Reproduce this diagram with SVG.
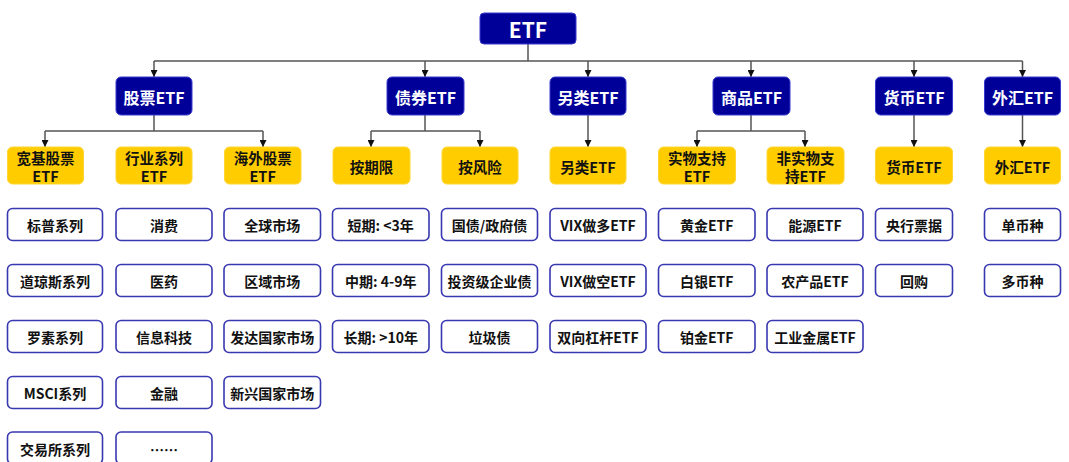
<svg xmlns="http://www.w3.org/2000/svg" width="1069" height="462" viewBox="0 0 1069 462">
<style>
text{font-family:"Noto Sans CJK SC","Noto Sans",sans-serif;font-weight:bold;text-anchor:middle;dominant-baseline:central}
.l1 rect,.l2 rect{fill:#000099;stroke:#3a3acc;stroke-width:1}
.l1 text{fill:#fff;font-size:21px}
.l2 text{fill:#fff;font-size:16px}
.l3 rect{fill:#ffcc00;stroke:#ffd633;stroke-width:1}
.l3 text{fill:#111;font-size:14.5px}
.l4 rect{fill:#fff;stroke:#3838b0;stroke-width:1.6}
.l4 text{fill:#111;font-size:14px}
.c{fill:none;stroke:#555;stroke-width:1.5}
.a{marker-end:url(#ah)}
</style>
<defs>
<marker id="ah" viewBox="0 0 10 10" refX="10" refY="5" markerWidth="7" markerHeight="7" markerUnits="userSpaceOnUse" orient="auto">
<path d="M0,0 L10,5 L0,10 z" fill="#111"/>
</marker>
</defs>
<g id="connectors">
<path class="c" d="M528,44 V61 M154,61 H1022.5"/>
<path class="c a" d="M154,61 V77"/>
<path class="c a" d="M425,61 V77"/>
<path class="c a" d="M588,61 V77"/>
<path class="c a" d="M751,61 V77"/>
<path class="c a" d="M914,61 V77"/>
<path class="c a" d="M1022.5,61 V77"/>
<path class="c" d="M154,115 V131 M45,131 H263"/>
<path class="c a" d="M45,131 V147"/>
<path class="c a" d="M263,131 V147"/>
<path class="c" d="M425,115 V131 M371,131 H480"/>
<path class="c a" d="M371,131 V147"/>
<path class="c a" d="M480,131 V147"/>
<path class="c a" d="M588,115 V147"/>
<path class="c" d="M751,115 V131 M697,131 H805"/>
<path class="c a" d="M697,131 V147"/>
<path class="c a" d="M805,131 V147"/>
<path class="c a" d="M914,115 V147"/>
<path class="c a" d="M1022.5,115 V147"/>
</g>
<g id="n-etf" class="l1"><rect x="480" y="13" width="96" height="31" rx="4"/><text x="528" y="29">ETF</text></g>
<g id="n-gp" class="l2"><rect x="116" y="77" width="76" height="38" rx="5"/><text x="154" y="96.5">股票ETF</text></g>
<g id="n-zq" class="l2"><rect x="387" y="77" width="77" height="38" rx="5"/><text x="425.5" y="96.5">债券ETF</text></g>
<g id="n-ll" class="l2"><rect x="550" y="77" width="76" height="38" rx="5"/><text x="588" y="96.5">另类ETF</text></g>
<g id="n-sp" class="l2"><rect x="713" y="77" width="77" height="38" rx="5"/><text x="751.5" y="96.5">商品ETF</text></g>
<g id="n-hb" class="l2"><rect x="875.5" y="77" width="77" height="38" rx="5"/><text x="914" y="96.5">货币ETF</text></g>
<g id="n-wh" class="l2"><rect x="984.5" y="77" width="76" height="38" rx="5"/><text x="1022.5" y="96.5">外汇ETF</text></g>

<g id="n-kj" class="l3"><rect x="7.5" y="147" width="76" height="37" rx="5"/><text x="45.5" y="157.5">宽基股票<tspan x="45.5" dy="17">ETF</tspan></text></g>
<g id="n-hy" class="l3"><rect x="116" y="147" width="76" height="37" rx="5"/><text x="154" y="157.5">行业系列<tspan x="154" dy="17">ETF</tspan></text></g>
<g id="n-hw" class="l3"><rect x="224.5" y="147" width="76.5" height="37" rx="5"/><text x="262.7" y="157.5">海外股票<tspan x="262.7" dy="17">ETF</tspan></text></g>
<g id="n-aqx" class="l3"><rect x="333" y="147" width="77" height="37" rx="5"/><text x="371.5" y="166">按期限</text></g>
<g id="n-afx" class="l3"><rect x="442" y="147" width="76" height="37" rx="5"/><text x="480" y="166">按风险</text></g>
<g id="n-ll2" class="l3"><rect x="550" y="147" width="76" height="37" rx="5"/><text x="588" y="166">另类ETF</text></g>
<g id="n-swzc" class="l3"><rect x="658.5" y="147" width="77" height="37" rx="5"/><text x="697" y="157.5">实物支持<tspan x="697" dy="17">ETF</tspan></text></g>
<g id="n-fsw" class="l3"><rect x="767" y="147" width="77" height="37" rx="5"/><text x="805.5" y="157.5">非实物支<tspan x="805.5" dy="17">持ETF</tspan></text></g>
<g id="n-hb2" class="l3"><rect x="875.5" y="147" width="77" height="37" rx="5"/><text x="914" y="166">货币ETF</text></g>
<g id="n-wh2" class="l3"><rect x="984.5" y="147" width="76" height="37" rx="5"/><text x="1022.5" y="166">外汇ETF</text></g>

<g id="n-bp" class="l4"><rect x="7.5" y="208.5" width="95" height="32" rx="5"/><text x="55" y="225">标普系列</text></g>
<g id="n-dqs" class="l4"><rect x="7.5" y="264.5" width="95" height="32" rx="5"/><text x="55" y="281">道琼斯系列</text></g>
<g id="n-ls" class="l4"><rect x="7.5" y="320.5" width="95" height="32" rx="5"/><text x="55" y="337">罗素系列</text></g>
<g id="n-msci" class="l4"><rect x="7.5" y="376.5" width="95" height="32" rx="5"/><text x="55" y="393">MSCI系列</text></g>
<g id="n-jys" class="l4"><rect x="7.5" y="432" width="95" height="32" rx="5"/><text x="55" y="448.5">交易所系列</text></g>

<g id="n-xf" class="l4"><rect x="116" y="208.5" width="96" height="32" rx="5"/><text x="164" y="225">消费</text></g>
<g id="n-yy" class="l4"><rect x="116" y="264.5" width="96" height="32" rx="5"/><text x="164" y="281">医药</text></g>
<g id="n-xxkj" class="l4"><rect x="116" y="320.5" width="96" height="32" rx="5"/><text x="164" y="337">信息科技</text></g>
<g id="n-jr" class="l4"><rect x="116" y="376.5" width="96" height="32" rx="5"/><text x="164" y="393">金融</text></g>
<g id="n-more" class="l4"><rect x="116" y="432" width="96" height="32" rx="5"/><text x="164" y="448.5">……</text></g>

<g id="n-qq" class="l4"><rect x="224" y="208.5" width="96.5" height="32" rx="5"/><text x="272.2" y="225">全球市场</text></g>
<g id="n-qy" class="l4"><rect x="224" y="264.5" width="96.5" height="32" rx="5"/><text x="272.2" y="281">区域市场</text></g>
<g id="n-fd" class="l4"><rect x="224" y="320.5" width="96.5" height="32" rx="5"/><text x="272.2" y="337">发达国家市场</text></g>
<g id="n-xx" class="l4"><rect x="224" y="376.5" width="96.5" height="32" rx="5"/><text x="272.2" y="393">新兴国家市场</text></g>

<g id="n-dq" class="l4"><rect x="332.5" y="208.5" width="96.5" height="32" rx="5"/><text x="380.7" y="225">短期: &lt;3年</text></g>
<g id="n-zqx" class="l4"><rect x="332.5" y="264.5" width="96.5" height="32" rx="5"/><text x="380.7" y="281">中期: 4-9年</text></g>
<g id="n-cq" class="l4"><rect x="332.5" y="320.5" width="96.5" height="32" rx="5"/><text x="380.7" y="337">长期: &gt;10年</text></g>

<g id="n-gz" class="l4"><rect x="441.5" y="208.5" width="96" height="32" rx="5"/><text x="489.5" y="225">国债/政府债</text></g>
<g id="n-tzj" class="l4"><rect x="441.5" y="264.5" width="96" height="32" rx="5"/><text x="489.5" y="281">投资级企业债</text></g>
<g id="n-ljz" class="l4"><rect x="441.5" y="320.5" width="96" height="32" rx="5"/><text x="489.5" y="337">垃圾债</text></g>

<g id="n-vixd" class="l4"><rect x="550" y="208.5" width="96" height="32" rx="5"/><text x="598" y="225">VIX做多ETF</text></g>
<g id="n-vixk" class="l4"><rect x="550" y="264.5" width="96" height="32" rx="5"/><text x="598" y="281">VIX做空ETF</text></g>
<g id="n-sx" class="l4"><rect x="550" y="320.5" width="96" height="32" rx="5"/><text x="598" y="337">双向杠杆ETF</text></g>

<g id="n-hj" class="l4"><rect x="658.5" y="208.5" width="96.5" height="32" rx="5"/><text x="706.7" y="225">黄金ETF</text></g>
<g id="n-by" class="l4"><rect x="658.5" y="264.5" width="96.5" height="32" rx="5"/><text x="706.7" y="281">白银ETF</text></g>
<g id="n-bj" class="l4"><rect x="658.5" y="320.5" width="96.5" height="32" rx="5"/><text x="706.7" y="337">铂金ETF</text></g>

<g id="n-ny" class="l4"><rect x="767" y="208.5" width="96" height="32" rx="5"/><text x="815" y="225">能源ETF</text></g>
<g id="n-ncp" class="l4"><rect x="767" y="264.5" width="96" height="32" rx="5"/><text x="815" y="281">农产品ETF</text></g>
<g id="n-gyjs" class="l4"><rect x="767" y="320.5" width="96" height="32" rx="5"/><text x="815" y="337">工业金属ETF</text></g>

<g id="n-yhpj" class="l4"><rect x="875.5" y="208.5" width="77" height="32" rx="5"/><text x="914" y="225">央行票据</text></g>
<g id="n-hg" class="l4"><rect x="875.5" y="264.5" width="77" height="32" rx="5"/><text x="914" y="281">回购</text></g>

<g id="n-dbz" class="l4"><rect x="984.5" y="208.5" width="76" height="32" rx="5"/><text x="1022.5" y="225">单币种</text></g>
<g id="n-dbz2" class="l4"><rect x="984.5" y="264.5" width="76" height="32" rx="5"/><text x="1022.5" y="281">多币种</text></g>
</svg>
